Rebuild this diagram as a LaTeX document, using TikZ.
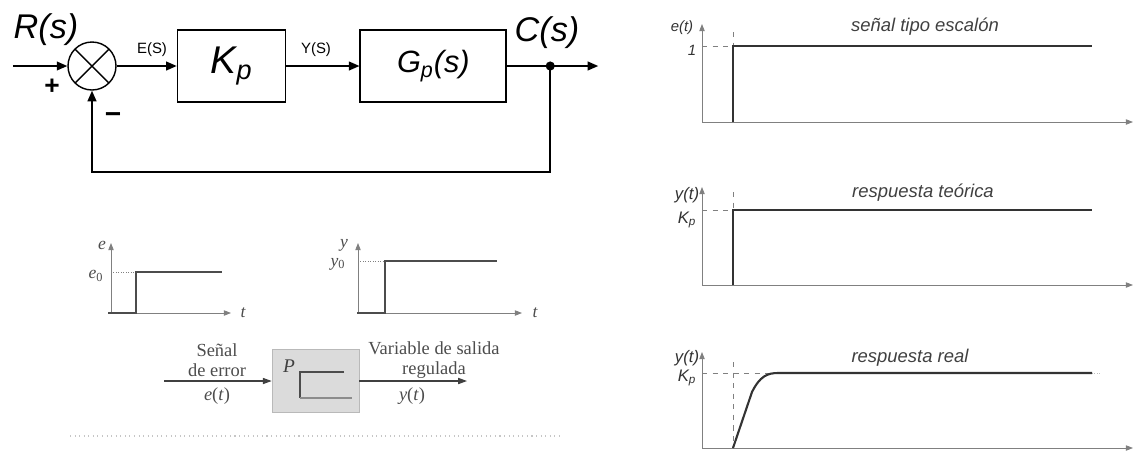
\documentclass[tikz,border=0pt]{standalone}
\usepackage{fontspec}
\setmainfont{Liberation Serif}
\setsansfont{Liberation Sans}
\usepackage{xcolor}
\usepackage{tikz}
\usetikzlibrary{arrows.meta, positioning}

\begin{document}
\begin{tikzpicture}[
  every node/.style={font=\small, inner sep=1pt},
  blk/.style={rectangle, draw=black, line width=1pt, minimum height=1.44cm,
              inner sep=0pt, font=\sffamily\itshape\fontsize{17.5}{19}\selectfont},
  sumnode/.style={circle, draw=black, line width=0.8pt, minimum size=0.96cm, inner sep=0pt,
              path picture={\draw[line width=0.8pt]
                (path picture bounding box.south west) -- (path picture bounding box.north east)
                (path picture bounding box.north west) -- (path picture bounding box.south east);}},
  pblk/.style={rectangle, fill=gray!28, draw=gray!55, minimum width=1.74cm,
              minimum height=1.26cm, inner sep=0pt},
  big/.style={font=\sffamily\itshape\fontsize{19.5}{21}\selectfont},
  sig/.style={font=\sffamily\fontsize{8.5}{9}\selectfont},
  serif/.style={font=\fontsize{10.5}{11.5}\selectfont, text=black!70, align=center},
  lbl/.style={font=\sffamily\itshape\fontsize{8.5}{10}\selectfont, text=black!80},
  title/.style={font=\sffamily\itshape\fontsize{10.5}{12}\selectfont, text=black!75},
  arr/.style={-{Triangle[length=6pt,width=5pt]}, line width=0.9pt},
  thinarr/.style={-{Triangle[length=5pt,width=3.5pt]}, line width=0.6pt, black!75},
  axis/.style={-{Triangle[length=4pt,width=3pt]}, gray, line width=0.5pt},
  curve/.style={line width=1.2pt, black!80},
  guide/.style={dashed, gray, line width=0.4pt}
]
\useasboundingbox (0,0) rectangle (22.74,-9.08);

% --- Closed loop ---
\node[sumnode] (sum) at (1.84,-1.32) {};
\node[blk, minimum width=2.16cm, right=1.2cm of sum] (kp)
  {\fontsize{22}{24}\selectfont K\textsubscript{p}};
\node[blk, minimum width=2.92cm, right=1.46cm of kp] (gp) {G\textsubscript{p}(s)};
\coordinate[right=0.86cm of gp] (branch);
\coordinate[right=0.96cm of branch] (out);
\coordinate (in) at (0.26,-1.32);

\node[big] (rlbl) at (0.92,-0.6) {R(s)};
\node[big] (clbl) at (10.94,-0.66) {C(s)};
\node[sig] (elbl) at (3.04,-1.0) {E(S)};
\node[sig] (ylbl) at (6.32,-1.0) {Y(S)};
\node[font=\sffamily\bfseries\fontsize{15}{15}\selectfont] (plus) at (1.04,-1.74) {+};
\node[font=\sffamily\bfseries\fontsize{16}{16}\selectfont] (minus) at (2.26,-2.36) {−};

\draw[arr] (in)     -- (sum);
\draw[arr] (sum)    -- (kp);
\draw[arr] (kp)     -- (gp);
\draw[arr] (gp)     -- (out);
\draw[arr] (branch) -- ++(0,-2.12) -| (sum);
\fill (branch) circle (2.6pt);

% --- Step in, step out ---
\draw[axis] (2.22,-6.26) -- (2.22,-4.86);
\draw[axis] (2.16,-6.26) -- (4.62,-6.26);
\draw[gray, densely dotted] (2.22,-5.44) -- (2.72,-5.44);
\draw[line width=1pt, black!70] (2.16,-6.26) -- (2.72,-6.26) -- (2.72,-5.44) -- (4.44,-5.44);
\node[font=\itshape\fontsize{10}{11}\selectfont, text=black!70] (elab) at (2.04,-4.9) {e};
\node[font=\fontsize{10}{11}\selectfont, text=black!70] (e0lab) at (1.92,-5.52) {\textit{e}\textsubscript{0}};
\node[font=\itshape\fontsize{10}{11}\selectfont, text=black!70] (t1lab) at (4.86,-6.26) {t};

\draw[axis] (7.16,-6.26) -- (7.16,-4.86);
\draw[axis] (7.14,-6.26) -- (10.44,-6.26);
\draw[gray, densely dotted] (7.16,-5.22) -- (7.7,-5.22);
\draw[line width=1pt, black!70] (7.14,-6.26) -- (7.7,-6.26) -- (7.7,-5.22) -- (9.94,-5.22);
\node[font=\itshape\fontsize{10}{11}\selectfont, text=black!70] (ylab) at (6.88,-4.9) {y};
\node[font=\fontsize{10}{11}\selectfont, text=black!70] (y0lab) at (6.76,-5.28) {\textit{y}\textsubscript{0}};
\node[font=\itshape\fontsize{10}{11}\selectfont, text=black!70] (t2lab) at (10.7,-6.26) {t};

% --- P block ---
\node[pblk] (pb) at (6.31,-7.62) {};
\node[font=\itshape\fontsize{11}{12}\selectfont, text=black!75] (plab) at (5.78,-7.32) {P};
\draw[black!70, line width=0.8pt] (6.88,-7.44) -- (6.0,-7.44) -- (6.0,-7.96);
\draw[black!45, line width=0.7pt] (6.0,-7.96) -- (7.04,-7.96);
\coordinate (ein)  at (3.28,-7.62);
\coordinate (yout) at (9.34,-7.62);
\draw[thinarr] (ein) -- (pb);
\draw[thinarr] (pb)  -- (yout);
\node[serif] (errtxt) at (4.34,-7.2) {Señal\\de error};
\node[serif] (outtxt) at (8.68,-7.2) {Variable de salida\\regulada};
\node[serif] (etxt) at (4.34,-7.92) {\textit{e}(\textit{t})};
\node[serif] (ytxt) at (8.24,-7.92) {\textit{y}(\textit{t})};
\draw[gray!45, dotted, line width=0.6pt] (1.4,-8.72) -- (11.2,-8.72);

% --- Step signal ---
\draw[axis] (14.04,-2.44) -- (14.04,-0.48);
\draw[axis] (14.04,-2.44) -- (22.66,-2.44);
\draw[guide] (14.04,-0.92) -- (14.66,-0.92);
\draw[guide] (14.66,-0.64) -- (14.66,-0.92);
\draw[curve] (14.66,-2.44) -- (14.66,-0.92) -- (21.84,-0.92);
\node[lbl] (e1) at (13.64,-0.56) {e(t)};
\node[lbl] (one) at (13.84,-1.0) {1};
\node[title] (t1) at (18.5,-0.54) {señal tipo escalón};

% --- Ideal response ---
\draw[axis] (14.04,-5.7) -- (14.04,-3.74);
\draw[axis] (14.04,-5.7) -- (22.66,-5.7);
\draw[guide] (14.04,-4.2) -- (14.66,-4.2);
\draw[guide] (14.66,-3.84) -- (14.66,-4.2);
\draw[curve] (14.66,-5.7) -- (14.66,-4.2) -- (21.84,-4.2);
\node[lbl, font=\sffamily\itshape\fontsize{9.5}{10}\selectfont] (y2) at (13.74,-3.9) {y(t)};
\node[lbl, font=\sffamily\itshape\fontsize{9.5}{10}\selectfont] (k2) at (13.74,-4.4) {K\textsubscript{p}};
\node[title] (t2) at (18.46,-3.86) {respuesta teórica};

% --- Real response ---
\draw[axis] (14.04,-8.96) -- (14.04,-7.04);
\draw[axis] (14.04,-8.96) -- (22.66,-8.96);
\draw[guide] (14.04,-7.46) -- (15.5,-7.46);
\draw[gray!50, densely dotted, line width=0.4pt] (21.84,-7.46) -- (22.0,-7.46);
\draw[guide] (14.66,-7.24) -- (14.66,-8.96);
\draw[curve] (14.66,-8.96) -- (15.04,-7.84)
  .. controls (15.2,-7.52) and (15.35,-7.46) .. (15.56,-7.46) -- (21.84,-7.46);
\node[lbl, font=\sffamily\itshape\fontsize{9.5}{10}\selectfont] (y3) at (13.74,-7.16) {y(t)};
\node[lbl, font=\sffamily\itshape\fontsize{9.5}{10}\selectfont] (k3) at (13.74,-7.56) {K\textsubscript{p}};
\node[title] (t3) at (18.2,-7.16) {respuesta real};

\end{tikzpicture}
\end{document}
